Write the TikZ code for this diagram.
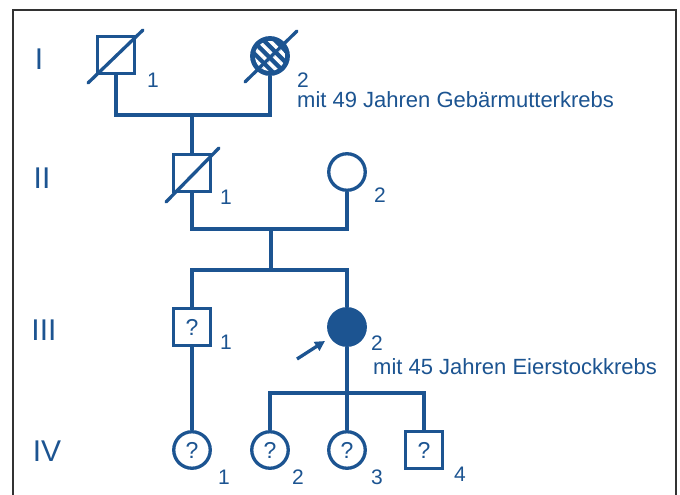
\documentclass[tikz,border=0pt]{standalone}
\usepackage{fontspec}
\setmainfont{Liberation Sans}
\usetikzlibrary{patterns.meta,arrows.meta,calc}
\definecolor{pedblue}{RGB}{28,84,145}
\definecolor{framegray}{RGB}{50,50,50}
\tikzset{
  person/.style={draw=pedblue, line width=3.3pt, inner sep=0pt, minimum size=36.5pt,
    text=pedblue, font=\fontsize{23}{23}\selectfont},
  male/.style={person, rectangle},
  female/.style={person, circle},
  affected/.style={fill=pedblue},
  slash/.style={draw=pedblue, line width=3.3pt, line cap=round},
  link/.style={draw=pedblue, line width=3.3pt},
  num/.style={text=pedblue, inner sep=0pt, font=\fontsize{21}{21}\selectfont},
  note/.style={text=pedblue, inner sep=0pt, anchor=west, font=\fontsize{22}{22}\selectfont},
  gen/.style={text=pedblue, inner sep=0pt, font=\fontsize{30}{30}\selectfont},
}
\begin{document}
\begin{tikzpicture}[x=1pt,y=-1pt]
\useasboundingbox (0,0) rectangle (680,495);
\fill[white] (0,0) rectangle (680,495);
% outer frame, open at the bottom edge
\draw[framegray, line width=2pt] (13,500) -- (13,10) -- (676,10) -- (676,500);

% generation labels
\node[gen] (gI)   at (39,59)  {I};
\node[gen] (gII)  at (42,178) {II};
\node[gen] (gIII) at (44,330) {III};
\node[gen] (gIV)  at (47,451) {IV};

% generation I
\node[male] (i1) at (116,55) {};
\node[female, fill=pedblue] (i2) at (270,56) {};
\fill[pattern={Lines[angle=-45,distance=8pt,line width=3.5pt]}, pattern color=white]
  (270,56) circle (15pt);
\draw[slash] ($(i1)+(-28,28)$) -- ($(i1)+(27,-25)$);
\draw[slash] ($(i2)+(-25,26)$) -- ($(i2)+(27,-25)$);
\node[num] (n11) at (153,80) {1};
\node[num] (n12) at (303,80) {2};
\node[note] (t12) at (297,100) {mit 49 Jahren Gebärmutterkrebs};

% generation II
\node[male] (ii1) at (192,173) {};
\node[female] (ii2) at (347,172) {};
\draw[slash] ($(ii1)+(-26,29)$) -- ($(ii1)+(27,-25)$);
\node[num] (n21) at (226,197) {1};
\node[num] (n22) at (380,195) {2};

% generation III
\node[male] (iii1) at (192,327) {?};
\node[female, affected] (iii2) at (347,327) {};
\node[num] (n31) at (226,342) {1};
\node[num] (n32) at (377,343) {2};
\node[note] (t32) at (373,367) {mit 45 Jahren Eierstockkrebs};
\coordinate (pa) at (297,359);
\coordinate (pb) at (325,341);
\draw[link, -{Triangle[length=10pt,width=10pt]}] (pa) -- (pb);

% generation IV
\node[female] (iv1) at (192,450) {?};
\node[female] (iv2) at (270,450) {?};
\node[female] (iv3) at (347,450) {?};
\node[male]   (iv4) at (424,450) {?};
\node[num] (n41) at (224,477) {1};
\node[num] (n42) at (298,477) {2};
\node[num] (n43) at (377,477) {3};
\node[num] (n44) at (460,474) {4};

% relationship and descent lines
\coordinate (m1) at (192,115);
\draw[link] (i1.south) |- (m1) -| (i2.south);
\draw[link] (m1) -- (ii1.north);
\coordinate (m2) at (271,229);
\draw[link] (ii1.south) |- (m2) -| (ii2.south);
\coordinate (s2) at (271,270);
\draw[link] (m2) -- (s2);
\draw[link] (iii1.north) |- (s2) -| (iii2.north);
\draw[link] (iii1.south) -- (iv1.north);
\coordinate (s3) at (347,393);
\draw[link] (iii2.south) -- (s3);
\draw[link] (iv2.north) |- (s3) -| (iv4.north);
\draw[link] (s3) -- (iv3.north);
\end{tikzpicture}
\end{document}
